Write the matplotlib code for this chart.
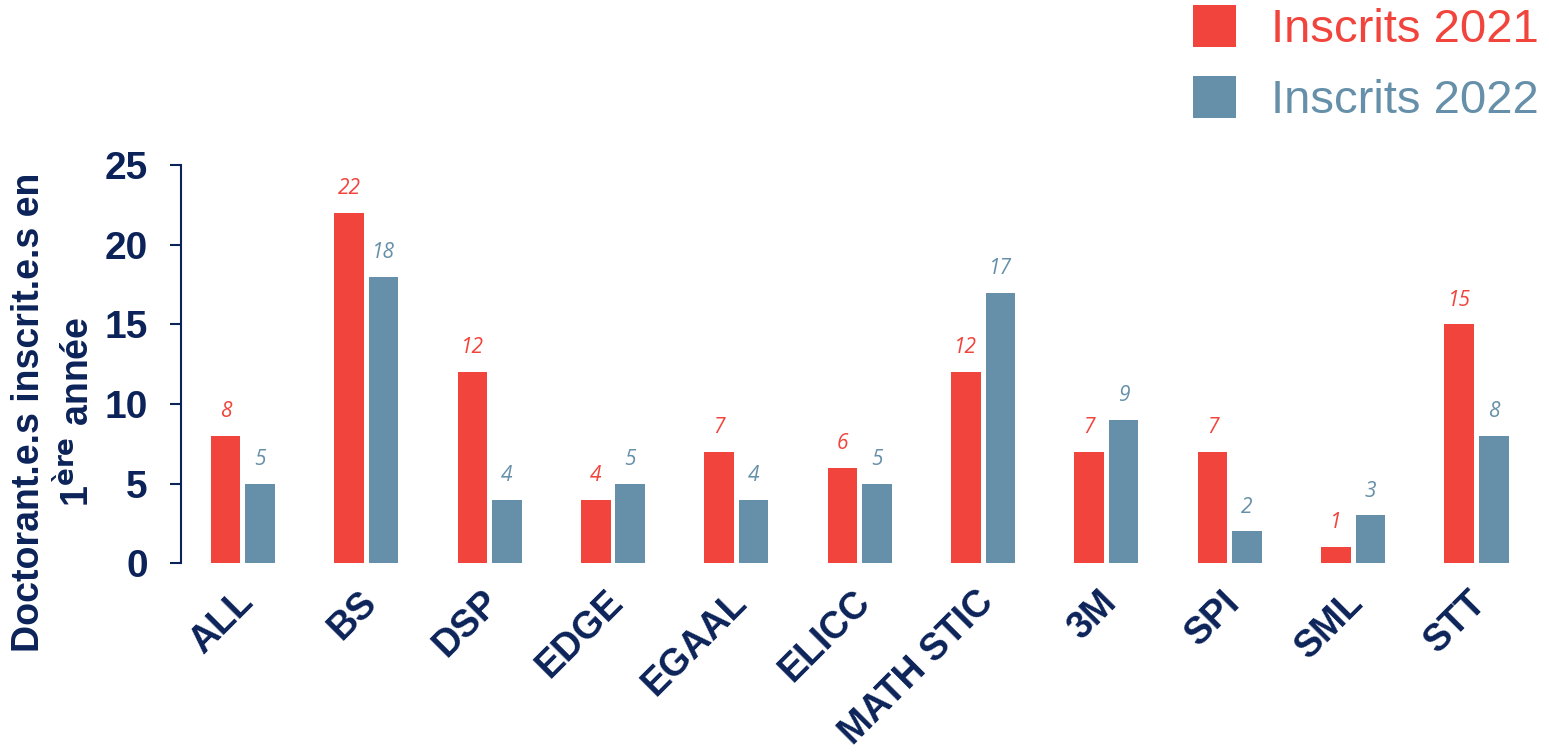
import matplotlib
matplotlib.use("Agg")
import matplotlib.pyplot as plt
import matplotlib.transforms as mtransforms
import numpy as np

categories = ["ALL", "BS", "DSP", "EDGE", "EGAAL", "ELICC", "MATH STIC", "3M", "SPI", "SML", "STT"]
inscrits_2021 = [8, 22, 12, 4, 7, 6, 12, 7, 7, 1, 15]
inscrits_2022 = [5, 18, 4, 5, 4, 5, 17, 9, 2, 3, 8]
series_labels = ["Inscrits 2021", "Inscrits 2022"]
yticks = [0, 5, 10, 15, 20, 25]

RED = "#F1443C"
BLUE = "#6690A9"
NAVY = "#0C2359"

plt.rcParams['font.family'] = ['Liberation Sans', 'DejaVu Sans']

fig = plt.figure(figsize=(15.49, 7.55), dpi=100)
ax = fig.add_axes([0.117, 0.254, 0.876, 0.527])

x = np.arange(len(categories))
w = 0.24
off = 0.14
b1 = ax.bar(x - off, inscrits_2021, w, color=RED, label=series_labels[0])
b2 = ax.bar(x + off, inscrits_2022, w, color=BLUE, label=series_labels[1])

for xi, v in zip(x - off, inscrits_2021):
    ax.annotate(str(v), (xi, v), xytext=(0, 10), textcoords="offset points",
                ha="center", va="bottom", color=RED, fontsize=15, style="italic",
                family=["Open Sans", "DejaVu Sans"])
for xi, v in zip(x + off, inscrits_2022):
    ax.annotate(str(v), (xi, v), xytext=(0, 10), textcoords="offset points",
                ha="center", va="bottom", color=BLUE, fontsize=15, style="italic",
                family=["Open Sans", "DejaVu Sans"])

ax.set_xlim(-0.5, len(categories) - 0.5)
ax.set_ylim(0, 25)
ax.set_yticks(yticks)
ax.set_yticklabels([str(t) for t in yticks], fontsize=28, fontweight="bold", color=NAVY)
ax.set_xticks(x)
ax.set_xticklabels(categories, rotation=45, ha="right", rotation_mode="anchor",
                   fontsize=27, fontweight="bold", color=NAVY)
ax.tick_params(axis="x", length=0, pad=15)
ax.tick_params(axis="y", length=8, width=1.5, color=NAVY, pad=16, direction="out")
shift = mtransforms.ScaledTranslation(-8 / 100, 0, fig.dpi_scale_trans)
for lbl in ax.get_xticklabels():
    lbl.set_transform(lbl.get_transform() + shift)

for s in ["top", "right", "bottom"]:
    ax.spines[s].set_visible(False)
ax.spines["left"].set_color(NAVY)
ax.spines["left"].set_linewidth(1.5)

ax.set_ylabel("Doctorant.e.s inscrit.e.s en\n1$^{\\mathbf{ère}}$ année", fontsize=27,
              fontweight="bold", color=NAVY, linespacing=1.25)
ax.yaxis.set_label_coords(-0.062, 0.38)

leg = fig.legend(handles=[b1, b2], labels=series_labels, loc="upper right",
                 bbox_to_anchor=(1.021, 1.05), frameon=False, fontsize=34,
                 handlelength=0.9, handleheight=1.0, handletextpad=0.75,
                 labelspacing=0.5)
for t, c in zip(leg.get_texts(), [RED, BLUE]):
    t.set_color(c)

fig.savefig("out.png", dpi=100)
